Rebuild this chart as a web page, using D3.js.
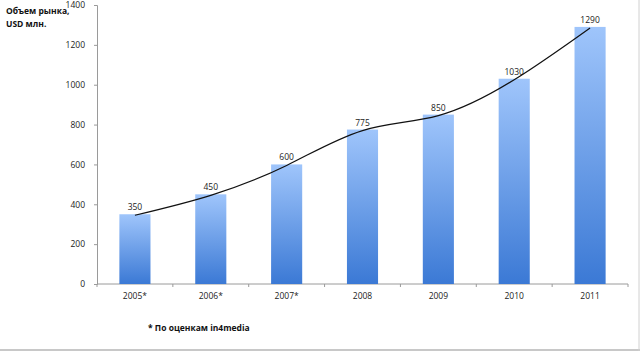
<!DOCTYPE html>
<html lang="ru">
<head>
  <meta charset="UTF-8">
  <title>Объем рынка</title>
  <script src="https://d3js.org/d3.v7.min.js"></script>
  <style>
    body { margin: 0; background: #fff; }
    text { font-family: "Open Sans", "DejaVu Sans", sans-serif; }
  </style>
</head>
<body>
  <div id="chart"></div>

  <script type="text/javascript">

  var years = ["2005*", "2006*", "2007*", "2008", "2009", "2010", "2011"];
  var values = [350, 450, 600, 775, 850, 1030, 1290];
  var yTicks = [0, 200, 400, 600, 800, 1000, 1200, 1400];

  var w = 640;
  var h = 351;
  var margin = ({top: 5, right: 10, bottom: 67, left: 97});

  var svg = d3.select('#chart')
    .append('svg')
    .attr('width', w)
    .attr('height', h);

  // bar gradient, light on top
  var grad = svg.append("defs").append("linearGradient")
    .attr("id", "barGrad")
    .attr("x1", 0).attr("y1", 0).attr("x2", 0).attr("y2", 1);
  grad.append("stop").attr("offset", "0%").attr("stop-color", "#9fc5fb");
  grad.append("stop").attr("offset", "100%").attr("stop-color", "#3b79d5");

  var x = d3.scaleBand()
    .domain(years)
    .range([margin.left, 628])
    .paddingInner(0.59)
    .paddingOuter(0.295);

  var y = d3.scaleLinear()
    .domain([0, 1400])
    .range([284, margin.top]);

  // axes
  var yAxis = svg.append("g")
    .attr("transform", "translate(" + margin.left + ",0)")
    .call(d3.axisLeft(y).tickValues(yTicks).tickFormat(d3.format("d")).tickSize(3).tickPadding(9));

  var xAxis = svg.append("g")
    .attr("transform", "translate(0," + y(0) + ")")
    .call(d3.axisBottom(x).tickSize(0).tickPadding(9));

  // tick marks between categories
  var step = x.step();
  var bounds = d3.range(years.length + 1).map(i => margin.left + i * step);
  xAxis.selectAll("line.sep")
    .data(bounds)
    .enter()
    .append("line")
    .attr("class", "sep")
    .attr("x1", d => d).attr("x2", d => d)
    .attr("y1", 0).attr("y2", 3)
    .attr("stroke", "#9a9a9a");

  [yAxis, xAxis].forEach(function(g) {
    g.select(".domain").attr("stroke", "#9a9a9a");
    g.selectAll(".tick line").attr("stroke", "#9a9a9a");
    g.selectAll(".tick text")
      .attr("fill", "#222")
      .style("font-size", "8.5px");
  });
  xAxis.select(".domain").attr("d", "M" + margin.left + ",0H" + bounds[bounds.length - 1]);

  // bars
  svg.selectAll("rect.bar")
    .data(values)
    .enter()
    .append("rect")
    .attr("class", "bar")
    .attr("x", (d, i) => x(years[i]))
    .attr("y", d => y(d))
    .attr("width", x.bandwidth())
    .attr("height", d => y(0) - y(d))
    .attr("fill", "url(#barGrad)");

  // value labels
  svg.selectAll("text.val")
    .data(values)
    .enter()
    .append("text")
    .attr("class", "val")
    .attr("x", (d, i) => x(years[i]) + x.bandwidth() / 2)
    .attr("y", d => y(d) - 4)
    .attr("text-anchor", "middle")
    .style("font-size", "8.5px")
    .attr("fill", "#222")
    .text(d => d);

  // smooth trend line through bar tops
  var line = d3.line()
    .x((d, i) => x(years[i]) + x.bandwidth() / 2)
    .y(d => y(d) + 1)
    .curve(d3.curveNatural);

  svg.append("path")
    .datum(values)
    .attr("d", line)
    .attr("fill", "none")
    .attr("stroke", "#111")
    .attr("stroke-width", 1.2);

  // axis title
  svg.append("text")
    .attr("x", 6).attr("y", 14)
    .style("font-size", "8.5px")
    .style("font-weight", "bold")
    .attr("fill", "#111")
    .text("Объем рынка,");
  svg.append("text")
    .attr("x", 6).attr("y", 27)
    .style("font-size", "8.5px")
    .style("font-weight", "bold")
    .attr("fill", "#111")
    .text("USD млн.");

  // footnote
  svg.append("text")
    .attr("x", 148).attr("y", 331)
    .style("font-size", "8.5px")
    .style("font-weight", "bold")
    .attr("fill", "#111")
    .text("* По оценкам in4media");

  // frame edges
  svg.append("line")
    .attr("x1", 0).attr("x2", w).attr("y1", 350).attr("y2", 350)
    .attr("stroke", "#c8c8c8").attr("stroke-width", 2);
  svg.append("line")
    .attr("x1", 639).attr("x2", 639).attr("y1", 0).attr("y2", h)
    .attr("stroke", "#d0d0d0").attr("stroke-width", 1);

  </script>
</body>
</html>
